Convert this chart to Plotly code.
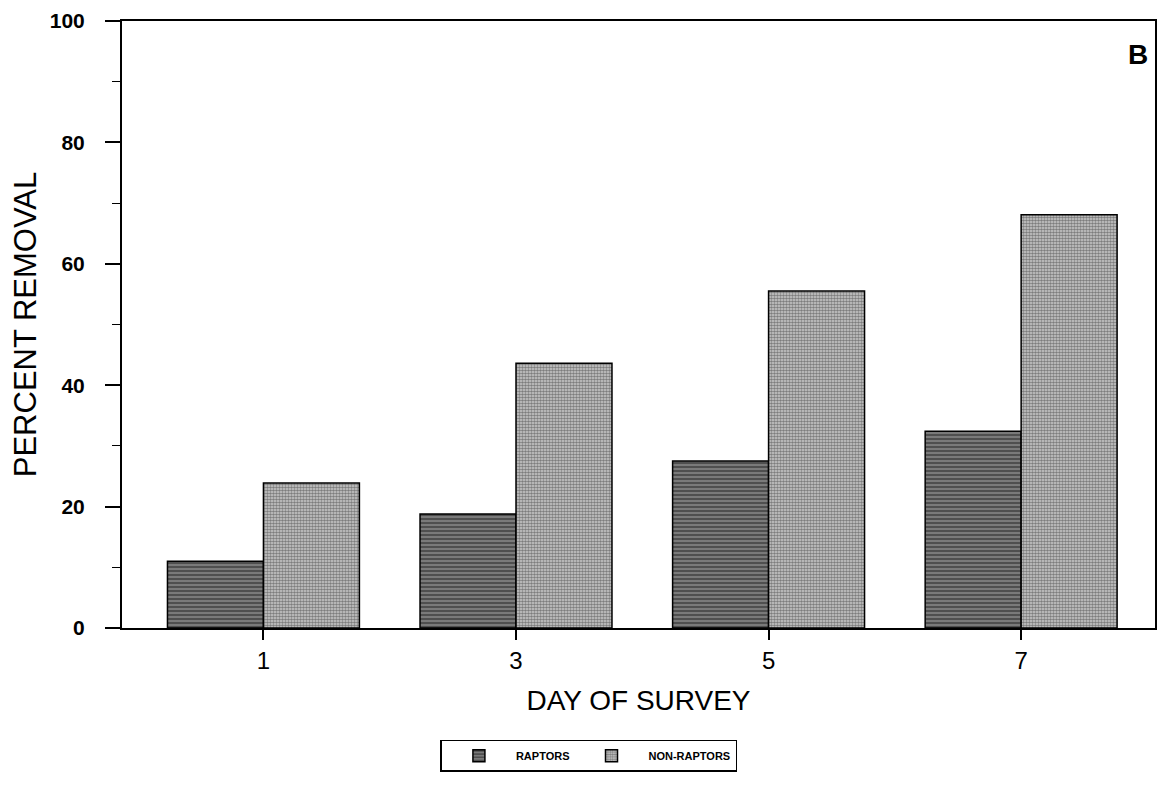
import plotly.graph_objects as go

days = ["1", "3", "5", "7"]
raptors = [11.0, 18.8, 27.5, 32.4]
non_raptors = [23.9, 43.6, 55.5, 68.1]
series_names = ["RAPTORS", "NON-RAPTORS"]

FONT = "Liberation Sans, Arial, sans-serif"

fig = go.Figure()
fig.add_trace(go.Bar(
    x=days, y=raptors, name=series_names[0],
    marker=dict(color="#5a5a5a", line=dict(color="black", width=1.5),
                pattern=dict(shape="-", fgcolor="#1a1a1a", bgcolor="#7a7a7a",
                             size=4, solidity=0.45)),
))
fig.add_trace(go.Bar(
    x=days, y=non_raptors, name=series_names[1],
    marker=dict(color="#b0b0b0", line=dict(color="black", width=1.5),
                pattern=dict(shape=".", fgcolor="#2a2a2a", bgcolor="#d0d0d0",
                             size=3, solidity=0.6)),
))

fig.update_layout(
    width=1170, height=789,
    margin=dict(l=114, r=23, t=13, b=169, autoexpand=False),
    paper_bgcolor="white", plot_bgcolor="white",
    barmode="group", bargap=0.24, bargroupgap=0,
    font=dict(family=FONT, color="black"),
    legend=dict(orientation="h", x=0.452, xanchor="center", y=-0.184, yanchor="top",
                bordercolor="black", borderwidth=1.5, bgcolor="white",
                font=dict(size=11, family=FONT, weight="bold"),
                itemwidth=64, traceorder="normal"),
    xaxis=dict(
        type="category", range=[-0.56, 3.53], automargin=False,
        showline=True, linecolor="black", linewidth=2, mirror=True,
        ticks="outside", ticklen=10, tickwidth=1.5, tickcolor="black",
        tickfont=dict(size=24, family=FONT),
        title=dict(text="DAY OF SURVEY", font=dict(size=28, family=FONT), standoff=18),
        showgrid=False, zeroline=False,
    ),
    yaxis=dict(
        range=[0, 100], tickvals=[0, 20, 40, 60, 80, 100], automargin=False,
        ticklabeloverflow="allow",
        showline=True, linecolor="black", linewidth=2, mirror=True,
        ticks="outside", ticklen=15, tickwidth=1.5, tickcolor="black",
        ticklabelstandoff=16,
        minor=dict(dtick=10, ticks="outside", ticklen=8, tickwidth=1, tickcolor="black", showgrid=False),
        tickfont=dict(size=21, family=FONT, weight="bold"),
        title=dict(text="PERCENT REMOVAL", font=dict(size=31, family=FONT), standoff=14),
        showgrid=False, zeroline=False,
    ),
    annotations=[dict(text="<b>B</b>", x=0.995, y=0.944, xref="paper", yref="paper",
                      xanchor="right", yanchor="middle", showarrow=False,
                      font=dict(size=28, family=FONT))],
)

fig.write_html("out.html")
